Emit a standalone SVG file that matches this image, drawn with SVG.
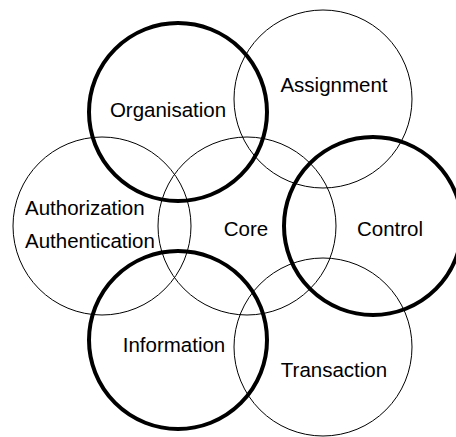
<svg xmlns="http://www.w3.org/2000/svg" width="456" height="437" viewBox="0 0 456 437">
<style>
.c{fill:none;stroke:#000;stroke-width:1}
.t{fill:none;stroke:#000;stroke-width:4}
text{font-family:"Liberation Sans",Arial,sans-serif;font-size:20.5px;fill:#000}
.m{text-anchor:middle}
</style>
<rect width="456" height="437" fill="#fff"/>
<g id="organisation"><circle class="t" cx="178" cy="112" r="89"/><text class="m" x="168" y="117">Organisation</text></g>
<g id="assignment"><circle class="c" cx="323" cy="99" r="89"/><text class="m" x="334" y="92">Assignment</text></g>
<g id="authorization"><circle class="c" cx="102" cy="226" r="89"/><text x="25" y="215">Authorization</text><text x="25" y="248">Authentication</text></g>
<g id="core"><circle class="c" cx="247" cy="226" r="89"/><text class="m" x="246" y="236">Core</text></g>
<g id="control"><circle class="t" cx="373" cy="226" r="89"/><text class="m" x="390" y="236">Control</text></g>
<g id="information"><circle class="t" cx="178" cy="340" r="89"/><text class="m" x="174" y="352">Information</text></g>
<g id="transaction"><circle class="c" cx="323" cy="347" r="89"/><text class="m" x="334" y="377">Transaction</text></g>
<g id="connectors"></g>
</svg>
